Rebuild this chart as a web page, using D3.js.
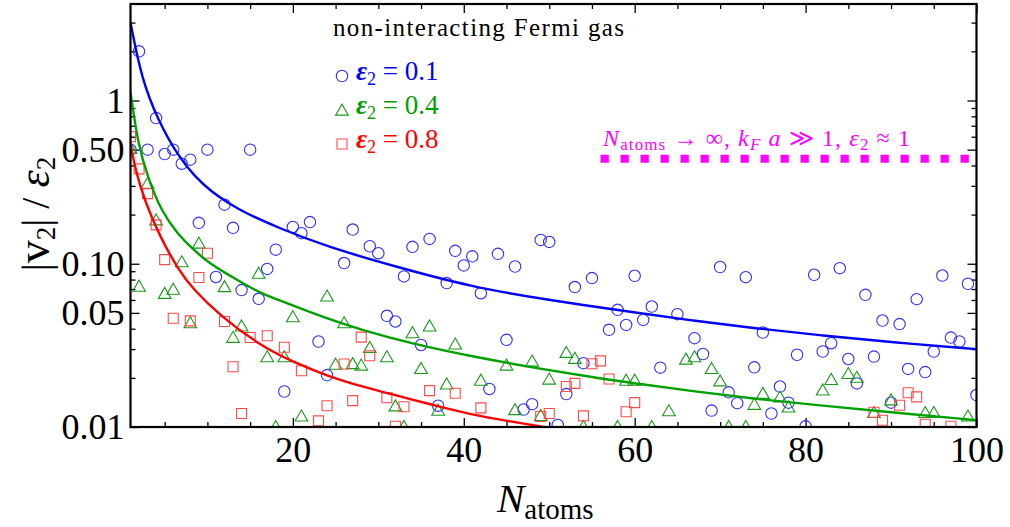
<!DOCTYPE html>
<html>
<head>
<meta charset="utf-8">
<script src="https://cdn.jsdelivr.net/npm/d3@7"></script>
<style>
  body { margin: 0; background: #fff; }
  svg text { font-family: 'Liberation Serif', 'Times New Roman', serif; }
</style>
</head>
<body>
<div id="chart"></div>
<script>
(function() {

  // scattered values, [N_atoms, |v2|/eps2]
  var blueData = [[1,0.50],[2,2.0],[3,0.50],[4,0.78],[5,0.47],[6,0.50],[7,0.41],[8,0.434],[9,0.178],[10,0.50],
    [11,0.083],[12,0.23],[13,0.166],[14,0.069],[15,0.50],[16,0.061],[17,0.093],[18,0.122],[19,0.0165],[20,0.168],
    [21,0.154],[22,0.180],[23,0.0334],[24,0.0208],[26,0.101],[27,0.162],[29,0.128],[30,0.116],[31,0.048],[32,0.0443],
    [33,0.0836],[34,0.127],[35,0.0318],[36,0.142],[37,0.0135],[38,0.0762],[39,0.120],[40,0.0977],[41,0.111],[42,0.066],
    [43,0.0171],[44,0.115],[45,0.0342],[46,0.0962],[47,0.0128],[48,0.0138],[49,0.140],[50,0.136],[51,0.0103],[52,0.0159],
    [53,0.072],[54,0.0246],[55,0.0817],[57,0.0394],[58,0.0522],[59,0.0422],[60,0.0844],[61,0.0453],[62,0.0547],[63,0.0231],
    [65,0.0491],[67,0.035],[68,0.028],[69,0.0126],[70,0.0955],[71,0.0163],[72,0.014],[73,0.0828],[74,0.0232],[75,0.0379],
    [76,0.0121],[77,0.0177],[78,0.0141],[79,0.0277],[80,0.0101],[81,0.0856],[82,0.029],[83,0.0326],[84,0.094],[85,0.0261],
    [86,0.0185],[87,0.0645],[88,0.027],[89,0.0449],[90,0.0141],[91,0.0427],[92,0.0227],[93,0.0607],[94,0.0217],[95,0.029],
    [96,0.0847],[97,0.0353],[98,0.0334],[99,0.0754],[100,0.0157]];

  var greenData = [[1,0.51],[2,0.073],[3,0.312],[4,0.186],[5,0.066],[6,0.070],[7,0.103],[8,0.0436],[9,0.134],[12,0.0726],
    [13,0.0355],[14,0.0417],[16,0.0877],[17,0.027],[18,0.0101],[19,0.027],[20,0.0475],[21,0.0117],[24,0.0636],[25,0.0243],
    [26,0.0436],[27,0.0245],[28,0.024],[29,0.0308],[31,0.027],[32,0.0135],[33,0.0101],[34,0.0379],[35,0.0229],[36,0.0417],
    [37,0.0127],[38,0.0184],[39,0.0323],[42,0.0194],[45,0.024],[46,0.0128],[48,0.0254],[49,0.0118],[50,0.0197],[52,0.0287],
    [53,0.0264],[54,0.0101],[58,0.0101],[59,0.0194],[60,0.0194],[62,0.0101],[64,0.0126],[66,0.0261],[67,0.027],[69,0.0229],
    [70,0.0192],[71,0.0101],[73,0.0101],[74,0.0138],[75,0.0161],[77,0.0153],[78,0.0133],[82,0.0169],[83,0.0196],[85,0.0213],
    [86,0.0202],[88,0.0123],[90,0.0147],[94,0.0123],[95,0.0123],[99,0.0117]];

  var redData = [[1,0.60],[2,0.381],[3,0.269],[4,0.173],[5,0.106],[6,0.0464],[8,0.0447],[9,0.0824],[10,0.116],[12,0.0443],
    [13,0.0234],[14,0.0121],[15,0.0353],[17,0.0362],[19,0.0308],[21,0.0221],[23,0.0109],[24,0.0135],[26,0.0243],[27,0.0145],
    [28,0.0355],[29,0.0273],[31,0.0151],[32,0.0101],[33,0.0133],[36,0.0167],[39,0.0161],[42,0.0131],[49,0.0116],[50,0.0121],
    [52,0.0177],[53,0.0185],[54,0.0117],[55,0.0244],[56,0.0254],[57,0.0197],[59,0.0124],[60,0.0141],[88,0.0123],[89,0.011],
    [91,0.0136],[92,0.0162],[93,0.0153],[94,0.0104],[97,0.0101]];

  // fitted curves
  var blueCurve = [[1,3.0],[2.3,1.35],[4.3,0.74],[6.6,0.455],[8.5,0.343],[10.5,0.275],[12.5,0.235],[14.4,0.205],[18.3,0.166],
    [24,0.127],[32,0.096],[41,0.072],[49,0.061],[60.5,0.0498],[67,0.0447],[74,0.0403],[82,0.0363],[90,0.0331],[100,0.030]];
  var greenCurve = [[1,1.12],[1.9,0.53],[3.1,0.33],[4.6,0.21],[6.6,0.15],[8.5,0.12],[10.4,0.099],[12.4,0.086],[14.3,0.075],
    [16.3,0.066],[18.3,0.060],[24,0.046],[28,0.0394],[34,0.0323],[41,0.027],[49,0.0227],[56.5,0.0196],[60.4,0.0184],
    [67,0.0165],[74,0.0149],[82,0.0135],[90,0.0123],[100,0.011]];
  var redCurve = [[1,0.54],[1.6,0.37],[2.7,0.24],[4.4,0.148],[6.6,0.092],[8.3,0.07],[11.5,0.048],[16,0.032],[20,0.025],
    [24,0.0206],[28,0.0177],[34,0.0147],[37,0.0134],[41,0.0119],[45,0.0109],[49.5,0.01],[53,0.0093]];

  // large-N limit line
  var limitValue = 0.44,
      limitRange = [56, 100];

  var xTicks = [20, 40, 60, 80, 100],
      xMinor = d3.range(5, 100, 5),
      yTicks = [0.01, 0.05, 0.1, 0.5, 1],
      yTickLabels = ['0.01', '0.05', '0.10', '0.50', '1'],
      yMinor = [0.02,0.03,0.04,0.06,0.07,0.08,0.09,0.2,0.3,0.4,0.6,0.7,0.8,0.9,2,3];

  var series = [
    { name: '0.1', data: blueData, curve: blueCurve, line: '#0000ff', mark: '#3030ff', shape: 'circle' },
    { name: '0.4', data: greenData, curve: greenCurve, line: '#00a000', mark: '#1a9a1a', shape: 'triangle' },
    { name: '0.8', data: redData, curve: redCurve, line: '#ff0000', mark: '#ff4a4a', shape: 'square' }
  ];

  var W = 1010, H = 527,
      left = 130.5, right = 976.5, top = 4, bottom = 427;

  var x = d3.scaleLinear().domain([1, 100]).range([left, right]);
  var y = d3.scaleLog().domain([0.01, 3.9]).range([bottom, top]);

  var svg = d3.select('#chart').append('svg')
    .attr('width', W)
    .attr('height', H);

  svg.append('clipPath')
    .attr('id', 'plot-clip')
    .append('rect')
    .attr('x', left).attr('y', top)
    .attr('width', right - left).attr('height', bottom - top);

  // ticks (inward, mirrored)
  function styleAxis(g) {
    g.select('.domain').remove();
    g.selectAll('line').attr('stroke', '#000').attr('stroke-width', 1.3);
    g.attr('font-family', "'Liberation Serif', serif").attr('font-size', 36);
    g.selectAll('text').attr('fill', '#000');
  }

  var xMinorOnly = xMinor.filter(function(d) { return xTicks.indexOf(d) < 0; });

  svg.append('g').attr('transform', 'translate(0,' + bottom + ')')
    .call(d3.axisBottom(x).tickValues(xTicks).tickSize(-9).tickPadding(9).tickFormat(d3.format('d')))
    .call(styleAxis);
  svg.append('g').attr('transform', 'translate(0,' + bottom + ')')
    .call(d3.axisBottom(x).tickValues(xMinorOnly).tickSize(-5).tickFormat(''))
    .call(styleAxis);
  svg.append('g').attr('transform', 'translate(0,' + top + ')')
    .call(d3.axisTop(x).tickValues(xTicks).tickSize(-9).tickFormat(''))
    .call(styleAxis);
  svg.append('g').attr('transform', 'translate(0,' + top + ')')
    .call(d3.axisTop(x).tickValues(xMinorOnly).tickSize(-5).tickFormat(''))
    .call(styleAxis);

  svg.append('g').attr('transform', 'translate(' + left + ',0)')
    .call(d3.axisLeft(y).tickValues(yTicks).tickSize(-9).tickPadding(6)
      .tickFormat(function(d, i) { return yTickLabels[i]; }))
    .call(styleAxis);
  svg.append('g').attr('transform', 'translate(' + left + ',0)')
    .call(d3.axisLeft(y).tickValues(yMinor).tickSize(-5).tickFormat(''))
    .call(styleAxis);
  svg.append('g').attr('transform', 'translate(' + right + ',0)')
    .call(d3.axisRight(y).tickValues(yTicks).tickSize(-9).tickFormat(''))
    .call(styleAxis);
  svg.append('g').attr('transform', 'translate(' + right + ',0)')
    .call(d3.axisRight(y).tickValues(yMinor).tickSize(-5).tickFormat(''))
    .call(styleAxis);

  var plot = svg.append('g').attr('clip-path', 'url(#plot-clip)');

  var symbols = {
    triangle: d3.symbol().type(d3.symbolTriangle).size(70),
    square: d3.symbol().type(d3.symbolSquare).size(100)
  };

  function drawMark(sel, s) {
    if (s.shape === 'circle') {
      sel.append('circle').attr('r', 5.7);
    } else {
      sel.append('path').attr('d', symbols[s.shape]());
    }
    sel.selectAll('circle, path')
      .attr('fill', 'none')
      .attr('stroke', s.mark)
      .attr('stroke-width', 1.1);
  }

  // points
  series.forEach(function(s) {
    plot.append('g').selectAll('g')
      .data(s.data)
      .enter()
      .append('g')
      .attr('transform', function(d) {
        var dy = s.shape === 'triangle' ? 1.5 : 0;
        return 'translate(' + x(d[0]) + ',' + (y(d[1]) + dy) + ')';
      })
      .each(function() { drawMark(d3.select(this), s); });
  });

  // curves
  var line = d3.line()
    .x(function(d) { return x(d[0]); })
    .y(function(d) { return y(d[1]); })
    .curve(d3.curveBasis);

  series.forEach(function(s) {
    plot.append('path')
      .datum(s.curve)
      .attr('fill', 'none')
      .attr('stroke', s.line)
      .attr('stroke-width', 2.4)
      .attr('d', line);
  });

  // limit line
  plot.append('line')
    .attr('x1', x(limitRange[0])).attr('x2', x(limitRange[1]))
    .attr('y1', y(limitValue)).attr('y2', y(limitValue))
    .attr('stroke', '#ff00ff')
    .attr('stroke-width', 8)
    .attr('stroke-dasharray', '8.3 11.7');

  // frame
  svg.append('rect')
    .attr('x', left).attr('y', top)
    .attr('width', right - left).attr('height', bottom - top)
    .attr('fill', 'none')
    .attr('stroke', '#000')
    .attr('stroke-width', 2.2);

  // legend
  svg.append('text')
    .attr('x', 333).attr('y', 36)
    .style('font-size', '25px')
    .attr('textLength', 291)
    .attr('lengthAdjust', 'spacing')
    .text('non-interacting Fermi gas');

  series.forEach(function(s, i) {
    var by = 80 + i * 34;
    var m = svg.append('g')
      .attr('transform', 'translate(' + 342 + ',' + (by - 4 + (s.shape === 'triangle' ? 1.5 : 0)) + ')');
    drawMark(m, s);

    var t = svg.append('text')
      .attr('x', 356).attr('y', by)
      .style('font-size', '27px')
      .attr('fill', s.line);
    t.append('tspan').style('font-style', 'italic').style('font-weight', 'bold').text('ε');
    t.append('tspan').attr('dy', 5).style('font-size', '18px').text('2');
    t.append('tspan').attr('dy', -5).text(' = ' + s.name);
  });

  // limit label
  var lt = svg.append('text')
    .attr('x', 603).attr('y', 146)
    .attr('fill', '#ff00ff')
    .attr('textLength', 307)
    .attr('lengthAdjust', 'spacing')
    .style('font-size', '24px');
  lt.append('tspan').style('font-style', 'italic').text('N');
  lt.append('tspan').attr('dy', 4).style('font-size', '17px').text('atoms');
  lt.append('tspan').attr('dy', -4).text(' → ∞,  ');
  lt.append('tspan').style('font-style', 'italic').text('k');
  lt.append('tspan').attr('dy', 4).style('font-size', '17px').style('font-style', 'italic').text('F');
  lt.append('tspan').attr('dy', -4).style('font-style', 'italic').text(' a');
  lt.append('tspan').text(' ≫ 1,  ');
  lt.append('tspan').style('font-style', 'italic').text('ε');
  lt.append('tspan').attr('dy', 4).style('font-size', '17px').text('2');
  lt.append('tspan').attr('dy', -4).text(' ≈ 1');

  // axis titles
  var xl = svg.append('text')
    .attr('x', 497).attr('y', 512)
    .style('font-size', '41px');
  xl.append('tspan').style('font-style', 'italic').text('N');
  xl.append('tspan').attr('dy', 7).style('font-size', '29px').text('atoms');

  var yl = svg.append('text')
    .attr('transform', 'translate(49,214) rotate(-90)')
    .attr('text-anchor', 'middle')
    .style('font-size', '40px');
  yl.append('tspan').text('|');
  yl.append('tspan').style('font-size', '46px').text('v');
  yl.append('tspan').attr('dy', 6).style('font-size', '27px').text('2');
  yl.append('tspan').attr('dy', -6).text('| / ');
  yl.append('tspan').style('font-style', 'italic').style('font-size', '44px').text('ε');
  yl.append('tspan').attr('dy', 6).style('font-size', '27px').text('2');

})();
</script>
</body>
</html>
